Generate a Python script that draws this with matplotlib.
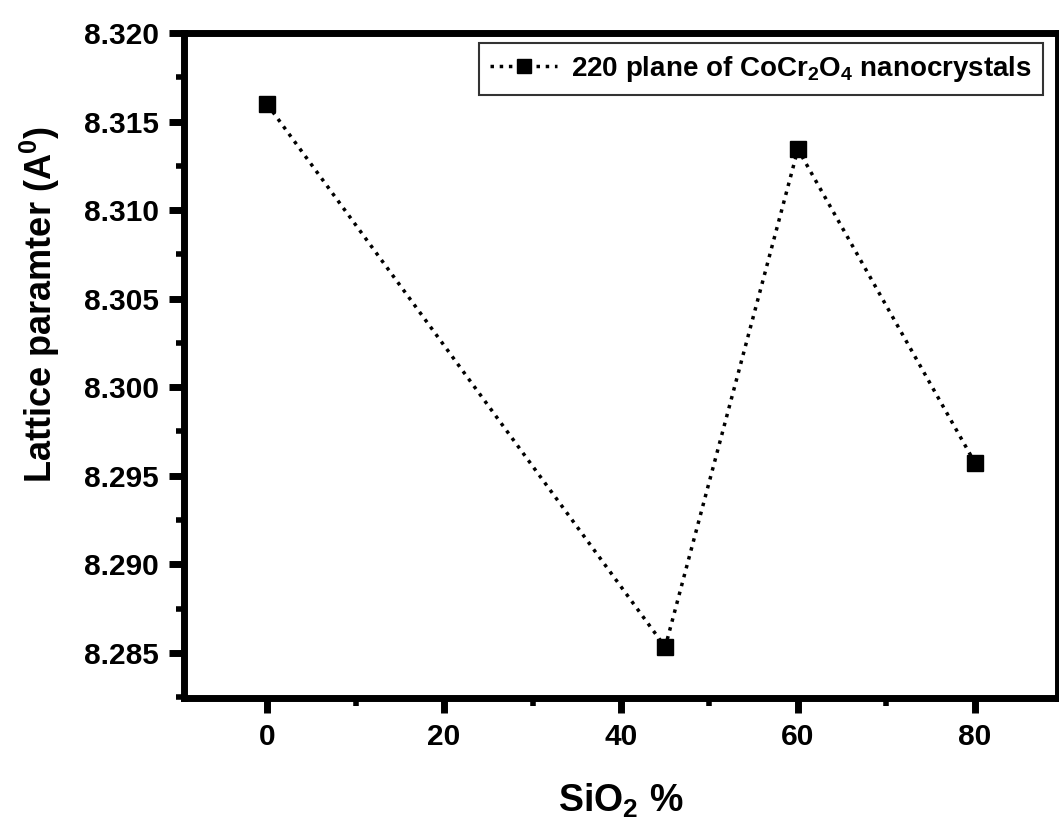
import matplotlib
matplotlib.use("Agg")
import matplotlib.pyplot as plt
import matplotlib.ticker as tck

plt.rcParams["font.family"] = ["Liberation Sans", "DejaVu Sans"]
plt.rcParams["font.weight"] = "bold"
plt.rcParams["mathtext.fontset"] = "custom"
plt.rcParams["mathtext.rm"] = "Liberation Sans:bold"
plt.rcParams["mathtext.it"] = "Liberation Sans:bold"
plt.rcParams["mathtext.bf"] = "Liberation Sans:bold"
plt.rcParams["mathtext.default"] = "rm"

# lattice parameter of the 220 plane vs silica content
sio2 = [0, 45, 60, 80]
lattice = [8.31598, 8.28533, 8.31344, 8.29574]
series_label = "220 plane of CoCr$_2$O$_4$ nanocrystals"

x_ticks = [0, 20, 40, 60, 80]
y_ticks = [8.285, 8.290, 8.295, 8.300, 8.305, 8.310, 8.315, 8.320]

fig = plt.figure(figsize=(10.59, 8.34), dpi=100)
ax = fig.add_axes([184 / 1059, 1 - 698 / 834, (1058 - 184) / 1059, (698 - 33) / 834])

ax.plot(sio2, lattice, color="black", ls=":", lw=2.5,
        marker="s", markersize=12, label=series_label)

ax.set_xlim(-9.4, 89.4)
ax.set_ylim(8.28245, 8.320)
ax.set_xticks(x_ticks)
ax.set_yticks(y_ticks)
ax.xaxis.set_minor_locator(tck.MultipleLocator(10))
ax.yaxis.set_minor_locator(tck.MultipleLocator(0.0025))
ax.yaxis.set_major_formatter(tck.FormatStrFormatter("%.3f"))

for side in ["left", "bottom", "top", "right"]:
    ax.spines[side].set_linewidth(5)
ax.tick_params(which="major", direction="out", length=11, width=5,
               labelsize=21.5, pad=7)
ax.tick_params(which="minor", direction="out", length=6, width=4)

ax.set_xlabel("SiO$_2$ %", fontsize=27, fontweight="bold", labelpad=22)
fig.text(40 / 1059, 1 - 305 / 834, "Lattice paramter (A$^0$)",
         rotation=90, fontsize=26, fontweight="bold", ha="center", va="center")

leg = ax.legend(loc="upper right", bbox_to_anchor=(1043 / 1059, 1 - 43 / 834),
                bbox_transform=fig.transFigure, fontsize=20, frameon=True,
                fancybox=False, handlelength=2.4, handletextpad=0.5,
                markerscale=0.85, borderpad=0.4, borderaxespad=0)
leg.get_frame().set_edgecolor("black")
leg.get_frame().set_linewidth(1.5)

fig.savefig("out.png", dpi=100)
